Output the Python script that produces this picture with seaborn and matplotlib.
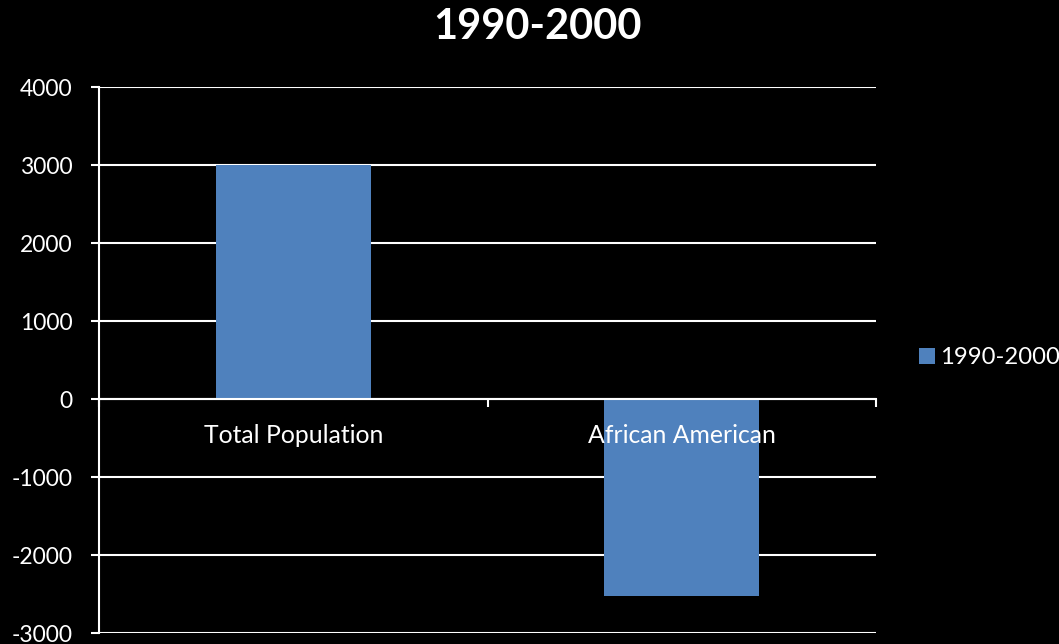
import matplotlib
matplotlib.use("Agg")
import matplotlib.pyplot as plt
import seaborn as sns
import pandas as pd
from matplotlib.ticker import FixedLocator
from matplotlib.patches import Patch

categories = ["Total Population", "African American"]
series_name = "1990-2000"
values = [3000, -2530]
y_ticks = [-3000, -2000, -1000, 0, 1000, 2000, 3000, 4000]

bar_color = "#4F81BD"

sns.set_style("dark")
plt.rcParams["font.family"] = ["Lato", "DejaVu Sans"]

df = pd.DataFrame({"category": categories, "value": values})

W, H = 1059, 644
fig = plt.figure(figsize=(W / 100, H / 100), dpi=100, facecolor="black")
ax = fig.add_axes([99 / W, 1 - 633 / H, (876 - 99) / W, (633 - 87) / H])
ax.set_facecolor("black")

sns.barplot(data=df, x="category", y="value", color=bar_color, width=0.4,
            saturation=1, ax=ax, zorder=3, edgecolor="none", linewidth=0)

ax.set_xlim(-0.5, 1.5)
ax.set_ylim(-3000, 4000)
ax.set_yticks(y_ticks)
ax.set_yticklabels([str(v) for v in y_ticks])
ax.grid(False)
ax.yaxis.grid(True, color="white", linewidth=1.5)
ax.yaxis.set_zorder(1)

for s in ["top", "right"]:
    ax.spines[s].set_visible(False)
ax.spines["left"].set_color("white")
ax.spines["left"].set_linewidth(1.5)
ax.spines["bottom"].set_position(("data", 0))
ax.spines["bottom"].set_color("white")
ax.spines["bottom"].set_linewidth(1.5)
ax.spines["bottom"].set_zorder(4)

ax.tick_params(axis="y", colors="white", labelsize=16.5, length=6, width=1.5,
               direction="out", pad=13, left=True)
ax.tick_params(axis="x", which="major", length=0, colors="white",
               labelsize=17.8, pad=18)
ax.xaxis.set_minor_locator(FixedLocator([-0.5, 0.5, 1.5]))
ax.tick_params(axis="x", which="minor", length=6, width=1.5, color="white",
               direction="out", bottom=True)
# category labels sit on top of the bars
ax.xaxis.set_zorder(5)
ax.set_xlabel("")
ax.set_ylabel("")

fig.suptitle(series_name, x=538 / W, y=1 - 27 / H, va="center",
             color="white", fontsize=30, fontweight="bold")

handle = Patch(facecolor=bar_color, edgecolor="none", label=series_name)
leg = fig.legend(handles=[handle], loc="center left",
                 bbox_to_anchor=(919 / W, 1 - 358 / H), frameon=False,
                 fontsize=17.2, handlelength=0.65, handleheight=0.65,
                 handletextpad=0.25, borderpad=0, borderaxespad=0)
for t in leg.get_texts():
    t.set_color("white")

fig.savefig("out.png", dpi=100, facecolor="black")
